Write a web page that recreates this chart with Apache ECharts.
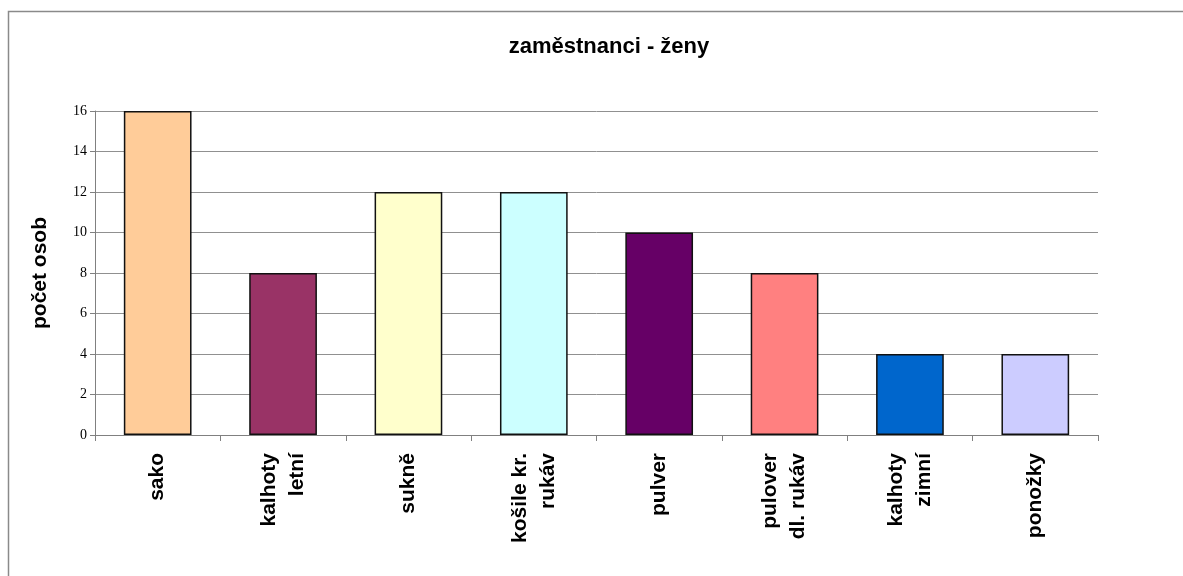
<!DOCTYPE html>
<html>
<head>
<meta charset="utf-8">
<script src="https://cdn.jsdelivr.net/npm/echarts@6/dist/echarts.min.js"></script>
<style>
  html, body { margin: 0; padding: 0; background: #fff; }
  #chart { width: 1183px; height: 576px; }
</style>
</head>
<body>
<div id="chart"></div>
<script>
// data
const categories = ['sako', 'kalhoty\nletní', 'sukně', 'košile kr.\nrukáv', 'pulver', 'pulover\ndl. rukáv', 'kalhoty\nzimní', 'ponožky'];
const counts = [16, 8, 12, 12, 10, 8, 4, 4];
const barColors = ['#FFCC99', '#993366', '#FFFFCC', '#CCFFFF', '#660066', '#FF8080', '#0066CC', '#CCCCFF'];
const yTicks = [0, 2, 4, 6, 8, 10, 12, 14, 16];

let chart = echarts.init(document.getElementById('chart'));

let option = {
  backgroundColor: '#fff',
  animation: false,
  graphic: [{
    type: 'rect',
    shape: { x: 8.5, y: 11.5, width: 1300, height: 700 },
    style: { fill: 'none', stroke: '#8a8a8a', lineWidth: 1.5 },
    silent: true
  }],
  title: {
    text: 'zaměstnanci - ženy',
    left: 604,
    top: 31,
    textAlign: 'center',
    textStyle: { fontFamily: 'Liberation Sans, Arial', fontWeight: 'bold', fontSize: 22, color: '#000' }
  },
  grid: { left: 95, right: 85, top: 111, bottom: 141 },
  xAxis: {
    type: 'category',
    data: categories,
    axisLine: { lineStyle: { color: '#808080', width: 1 } },
    axisTick: { show: true, length: 6, alignWithLabel: false, lineStyle: { color: '#808080' } },
    axisLabel: {
      rotate: 90,
      margin: 18,
      interval: 0,
      fontFamily: 'Liberation Sans, Arial',
      fontWeight: 'bold',
      fontSize: 21,
      lineHeight: 28,
      color: '#000'
    }
  },
  yAxis: {
    type: 'value',
    min: 0,
    max: yTicks[yTicks.length - 1],
    interval: 2,
    name: 'počet osob',
    nameLocation: 'middle',
    nameGap: 44,
    nameTextStyle: { fontFamily: 'Liberation Sans, Arial', fontWeight: 'bold', fontSize: 21, color: '#000' },
    axisLine: { show: true, lineStyle: { color: '#808080', width: 1 } },
    axisTick: { show: true, length: 5, inside: false, lineStyle: { color: '#808080' } },
    axisLabel: { fontFamily: 'Liberation Serif, Times New Roman, serif', fontSize: 14, color: '#000', margin: 8 },
    splitLine: { show: true, lineStyle: { color: '#909090', width: 1 } }
  },
  series: [{
    type: 'bar',
    data: counts.map((v, i) => ({
      value: v,
      itemStyle: { color: barColors[i] }
    })),
    barWidth: '54%',
    itemStyle: { borderColor: '#111', borderWidth: 1.5 }
  }]
};

chart.setOption(option);
window.addEventListener('resize', () => {
  chart.resize();
});
</script>
</body>
</html>
